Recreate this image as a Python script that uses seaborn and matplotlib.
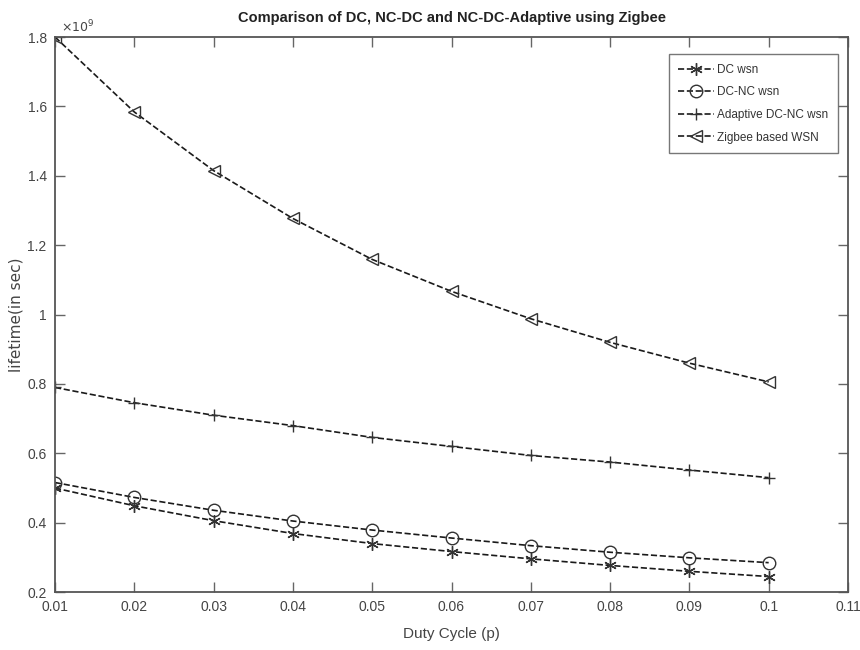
import matplotlib
matplotlib.use("Agg")
import matplotlib.pyplot as plt
import matplotlib.ticker as mticker
import seaborn as sns
import pandas as pd

duty_cycle = [0.01, 0.02, 0.03, 0.04, 0.05, 0.06, 0.07, 0.08, 0.09, 0.10]
dc_wsn = [0.500e9, 0.449e9, 0.406e9, 0.369e9, 0.340e9, 0.317e9, 0.296e9, 0.277e9, 0.260e9, 0.245e9]
dcnc_wsn = [0.516e9, 0.473e9, 0.436e9, 0.405e9, 0.379e9, 0.356e9, 0.334e9, 0.315e9, 0.299e9, 0.285e9]
adaptive_wsn = [0.790e9, 0.746e9, 0.710e9, 0.680e9, 0.646e9, 0.620e9, 0.594e9, 0.575e9, 0.552e9, 0.530e9]
zigbee_wsn = [1.800e9, 1.584e9, 1.415e9, 1.277e9, 1.159e9, 1.067e9, 0.988e9, 0.920e9, 0.860e9, 0.806e9]

series_names = ["DC wsn", "DC-NC wsn", "Adaptive DC-NC wsn", "Zigbee based WSN"]
series_values = [dc_wsn, dcnc_wsn, adaptive_wsn, zigbee_wsn]
markers = [(6, 2, 0), "o", "+", "<"]

x_ticks = [0.01, 0.02, 0.03, 0.04, 0.05, 0.06, 0.07, 0.08, 0.09, 0.10, 0.11]
y_ticks = [0.2e9, 0.4e9, 0.6e9, 0.8e9, 1.0e9, 1.2e9, 1.4e9, 1.6e9, 1.8e9]

sns.set_theme(style="white")
plt.rcParams["font.family"] = ["Liberation Sans", "DejaVu Sans"]

fig = plt.figure(figsize=(8.6, 6.5), dpi=100)
ax = fig.add_axes([0.064, 0.089, 0.922, 0.854])

for name, vals, mk in zip(series_names, series_values, markers):
    df = pd.DataFrame({"x": duty_cycle, "y": vals})
    hollow = mk in ("o", "<")
    sns.lineplot(data=df, x="x", y="y", ax=ax, color="#1a1a1a", linestyle="--",
                 linewidth=1.2, marker=mk, markersize=9,
                 markerfacecolor="none" if hollow else "#333333",
                 markeredgecolor="#333333", markeredgewidth=1.0,
                 label=name, dashes=(5, 3))

ax.set_xlim(0.01, 0.11)
ax.set_ylim(0.2e9, 1.8e9)
ax.set_xticks(x_ticks)
ax.set_yticks(y_ticks)
ax.xaxis.set_major_formatter(mticker.FuncFormatter(lambda v, _: f"{v:g}"))
ax.yaxis.set_major_formatter(mticker.FuncFormatter(lambda v, _: f"{v/1e9:g}"))
ax.tick_params(axis="both", which="major", direction="in", length=7, width=1,
               color="#666666", labelsize=10, labelcolor="#444444",
               top=True, right=True, bottom=True, left=True, pad=6)
for sp in ax.spines.values():
    sp.set_color("#555555")
    sp.set_linewidth(1.3)

ax.text(0.008, 1.004, r"$\times10^{9}$", transform=ax.transAxes, fontsize=9,
        color="#444444", ha="left", va="bottom", family="DejaVu Sans")

ax.set_title("Comparison of DC, NC-DC and NC-DC-Adaptive using Zigbee",
             fontsize=10.5, fontweight="bold", color="#222222", pad=11)
ax.set_xlabel("Duty Cycle (p)", fontsize=11, color="#444444", labelpad=9)
ax.set_ylabel("lifetime(in sec)", fontsize=11, color="#444444", labelpad=3,
              family="DejaVu Sans")

leg = ax.legend(loc="upper right", bbox_to_anchor=(0.987, 0.969), fontsize=8.5,
                frameon=True, fancybox=False, edgecolor="#555555",
                handlelength=3.0, handletextpad=0.3, borderpad=0.8,
                labelspacing=0.9, borderaxespad=0.0)
leg.get_frame().set_linewidth(1.0)
for t in leg.get_texts():
    t.set_color("#333333")

fig.savefig("out.png", dpi=100)
